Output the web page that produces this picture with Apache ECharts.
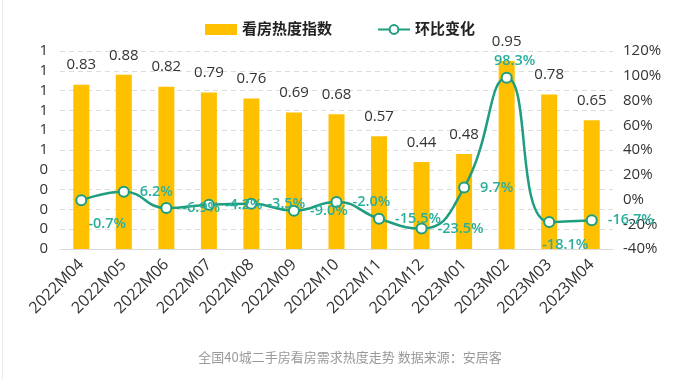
<!DOCTYPE html>
<html>
<head>
<meta charset="utf-8">
<script src="https://cdn.jsdelivr.net/npm/echarts@6/dist/echarts.min.js"></script>
<style>html,body{margin:0;padding:0;background:#fff;}#c{width:680px;height:380px;}</style>
</head>
<body>
<div id="c"></div>
<script>
const categories = ['2022M04','2022M05','2022M06','2022M07','2022M08','2022M09','2022M10','2022M11','2022M12','2023M01','2023M02','2023M03','2023M04'];
const heatIndex = [0.83, 0.88, 0.82, 0.79, 0.76, 0.69, 0.68, 0.57, 0.44, 0.48, 0.95, 0.78, 0.65];
const momChange = [-0.7, 6.2, -6.9, -4.2, -3.5, -9.0, -2.0, -15.5, -23.5, 9.7, 98.3, -18.1, -16.7];
const seriesNames = ['看房热度指数', '环比变化'];
const caption = '全国40城二手房看房需求热度走势 数据来源：安居客';

const FONT = "'Open Sans', 'Noto Sans CJK SC', sans-serif";
const lineLabelOverrides = {
  0: { position: 'bottom', offset: [26, 0] },
  10: { position: 'top', offset: [8, 6] },
  11: { position: 'bottom', offset: [16, 0] }
};
const lineData = momChange.map((v, i) => {
  const item = { value: v };
  if (lineLabelOverrides[i]) item.label = lineLabelOverrides[i];
  return item;
});

const chart = echarts.init(document.getElementById('c'));
chart.setOption({
  animation: false,
  textStyle: { fontFamily: FONT },
  legend: {
    top: 17,
    left: 'center',
    itemWidth: 32,
    itemHeight: 11,
    itemGap: 45,
    textStyle: { fontSize: 15, fontWeight: 'bold', color: '#222', fontFamily: FONT },
    data: [
      { name: seriesNames[0], icon: 'rect' },
      { name: seriesNames[1] }
    ]
  },
  grid: { left: 60, right: 67, top: 51, bottom: 131 },
  xAxis: {
    type: 'category',
    data: categories,
    axisLine: { show: true, lineStyle: { color: '#d9d9d9' } },
    axisTick: { show: false },
    axisLabel: { rotate: 45, fontSize: 16, color: '#333', margin: 13, interval: 0 }
  },
  yAxis: [
    {
      type: 'value', min: 0, max: 1, interval: 0.1,
      axisLine: { show: false }, axisTick: { show: false },
      axisLabel: { fontSize: 15, color: '#333', margin: 12, formatter: v => String(Math.round(v)) },
      splitLine: { lineStyle: { color: '#dcdcdc', type: [5, 4] } }
    },
    {
      type: 'value', min: -40, max: 120, interval: 20,
      axisLine: { show: false }, axisTick: { show: false },
      axisLabel: { fontSize: 15, color: '#333', margin: 10, formatter: '{value}%' },
      splitLine: { show: false }
    }
  ],
  series: [
    {
      name: seriesNames[0],
      type: 'bar',
      data: heatIndex,
      barWidth: 16,
      itemStyle: { color: '#FFC000' },
      label: { show: true, position: 'top', distance: 12, fontSize: 15, color: '#333' }
    },
    {
      name: seriesNames[1],
      type: 'line',
      yAxisIndex: 1,
      data: lineData,
      smooth: true,
      symbol: 'emptyCircle',
      symbolSize: 10,
      lineStyle: { color: '#1E9E7E', width: 2.5 },
      itemStyle: { color: '#1E9E7E', borderWidth: 2.5, borderColor: '#23A37E' },
      label: {
        show: true, position: 'right', distance: 10,
        fontSize: 14.5, fontWeight: 600, color: '#2AAE9C',
        formatter: p => p.value.toFixed(1) + '%'
      },
      z: 5
    }
  ],
  graphic: [
    { type: 'line', shape: { x1: 2.5, y1: 0, x2: 2.5, y2: 380 }, style: { stroke: '#ececec', lineWidth: 1 } },
    { type: 'text', x: 350, y: 357, style: { text: caption, fill: '#999', fontSize: 13, fontFamily: "'Noto Sans CJK SC', sans-serif", textAlign: 'center', textVerticalAlign: 'middle' } }
  ]
});
</script>
</body>
</html>
